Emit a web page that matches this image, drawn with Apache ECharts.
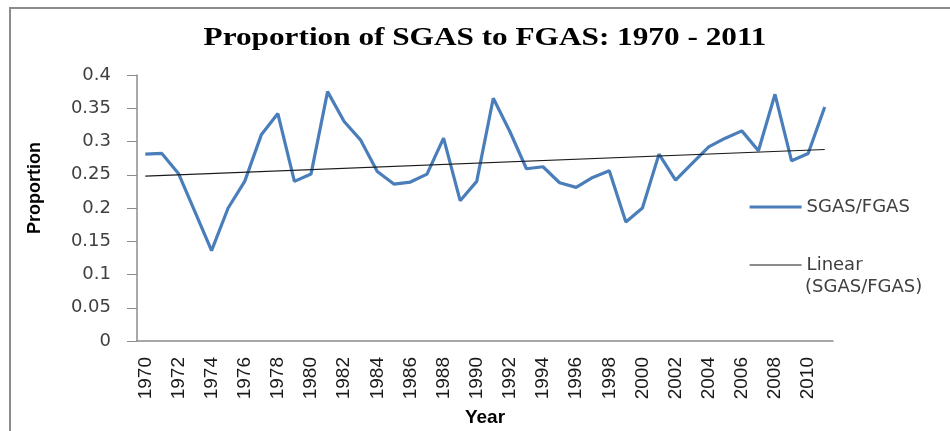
<!DOCTYPE html>
<html>
<head>
<meta charset="utf-8">
<script src="https://cdn.jsdelivr.net/npm/echarts@6/dist/echarts.min.js"></script>
<style>
  html, body { margin: 0; padding: 0; background: #fff; }
  #chart { width: 950px; height: 431px; }
</style>
</head>
<body>
<div id="chart"></div>
<script>
// years on the category axis
const years = []
for (let y = 1970; y <= 2011; y++) years.push(String(y))

// SGAS/FGAS proportion
const proportion = [
  0.281, 0.282, 0.252, 0.194, 0.136, 0.200, 0.240, 0.310, 0.342, 0.240,
  0.251, 0.375, 0.330, 0.302, 0.255, 0.236, 0.239, 0.251, 0.305, 0.211,
  0.240, 0.365, 0.315, 0.259, 0.262, 0.238, 0.231, 0.246, 0.256, 0.179,
  0.200, 0.281, 0.242, 0.267, 0.292, 0.305, 0.316, 0.286, 0.371, 0.271,
  0.282, 0.352
]

// linear trend line end points (1970, 2011)
const trendEnds = [0.248, 0.288]

const trend = years.map((y, i) => {
  if (i === 0) return trendEnds[0]
  if (i === years.length - 1) return trendEnds[1]
  return null
})

const chart = echarts.init(document.getElementById('chart'))

const option = {
  animation: false,
  graphic: [
    // outer chart frame
    {
      type: 'rect',
      shape: { x: 10, y: 8, width: 960, height: 440 },
      style: { fill: 'none', stroke: '#8c8c8c', lineWidth: 2 },
      silent: true
    },
    // title, stretched a little wider like the original
    {
      type: 'text',
      x: 485,
      y: 39,
      scaleX: 1.25,
      style: {
        text: 'Proportion of SGAS to FGAS: 1970 - 2011',
        font: 'bold 25px "Liberation Serif"',
        fill: '#000',
        align: 'center',
        verticalAlign: 'middle'
      },
      silent: true
    },
    // second line of the trend legend entry
    {
      type: 'text',
      x: 805,
      y: 287,
      style: {
        text: '(SGAS/FGAS)',
        font: '18px "DejaVu Sans"',
        fill: '#404040',
        align: 'left',
        verticalAlign: 'middle'
      },
      silent: true
    }
  ],
  legend: {
    orient: 'vertical',
    left: 748,
    top: 198,
    padding: 0,
    itemWidth: 52,
    itemHeight: 14,
    itemGap: 40,
    formatter: name => name.split(' ')[0],
    itemStyle: { opacity: 0 },
    textStyle: {
      fontFamily: 'DejaVu Sans',
      fontSize: 18,
      color: '#404040'
    },
    data: [
      { name: 'SGAS/FGAS', lineStyle: { width: 3.2 } },
      { name: 'Linear (SGAS/FGAS)', lineStyle: { width: 1.2 } }
    ]
  },
  grid: {
    left: 137,
    right: 117,
    top: 75,
    bottom: 90,
    outerBoundsMode: 'none'
  },
  xAxis: {
    type: 'category',
    data: years,
    name: 'Year',
    nameLocation: 'middle',
    nameGap: 67,
    nameTextStyle: {
      fontFamily: 'Liberation Sans',
      fontWeight: 'bold',
      fontSize: 19,
      color: '#000'
    },
    axisLine: { lineStyle: { color: '#8c8c8c', width: 1.5 } },
    axisTick: { show: false },
    axisLabel: {
      interval: 1,
      rotate: 90,
      margin: 16,
      fontFamily: 'Liberation Sans',
      fontSize: 19,
      color: '#1a1a1a'
    },
    splitLine: { show: false }
  },
  yAxis: {
    type: 'value',
    min: 0,
    max: 0.4,
    interval: 0.05,
    name: 'Proportion',
    nameLocation: 'middle',
    nameGap: 93,
    nameRotate: 90,
    nameTextStyle: {
      fontFamily: 'Liberation Sans',
      fontWeight: 'bold',
      fontSize: 18,
      color: '#000',
      padding: [0, 0, 0, 40]
    },
    axisLine: { show: true, lineStyle: { color: '#8c8c8c', width: 1.5 } },
    axisTick: { show: true, length: 10, lineStyle: { color: '#8c8c8c' } },
    axisLabel: {
      margin: 26,
      fontFamily: 'DejaVu Sans',
      fontSize: 18,
      color: '#404040'
    },
    splitLine: { show: false }
  },
  series: [
    {
      name: 'SGAS/FGAS',
      type: 'line',
      data: proportion,
      symbol: 'none',
      lineStyle: { color: '#4a7ebb', width: 3.2 },
      itemStyle: { color: '#4a7ebb' }
    },
    {
      name: 'Linear (SGAS/FGAS)',
      type: 'line',
      data: trend,
      connectNulls: true,
      symbol: 'none',
      lineStyle: { color: '#1a1a1a', width: 1.2 },
      itemStyle: { color: '#1a1a1a' }
    }
  ]
}

chart.setOption(option)
</script>
</body>
</html>
